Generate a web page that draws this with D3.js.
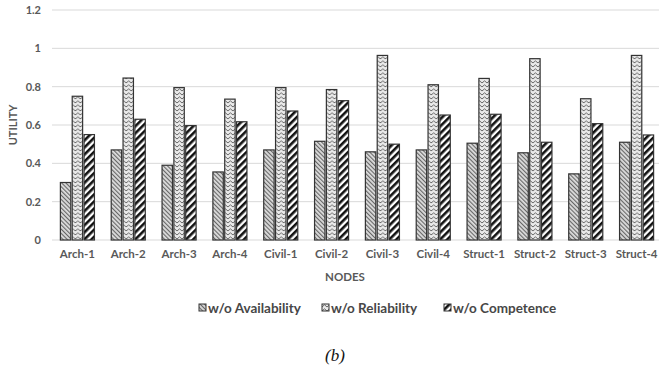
<!DOCTYPE html>
<html><head><meta charset="utf-8">
<script src="https://cdn.jsdelivr.net/npm/d3@7"></script>
<style>body{margin:0;background:#fff}svg{display:block}</style>
</head><body>
<script>
const categories = ["Arch-1","Arch-2","Arch-3","Arch-4","Civil-1","Civil-2","Civil-3","Civil-4","Struct-1","Struct-2","Struct-3","Struct-4"];
const seriesNames = ["w/o Availability","w/o Reliability","w/o Competence"];
const availability = [0.30,0.47,0.39,0.355,0.47,0.515,0.46,0.47,0.505,0.455,0.345,0.51];
const reliability  = [0.75,0.845,0.795,0.735,0.795,0.785,0.963,0.81,0.843,0.946,0.737,0.963];
const competence   = [0.55,0.63,0.597,0.617,0.673,0.727,0.50,0.652,0.656,0.51,0.607,0.548];
const yTicks = [0,0.2,0.4,0.6,0.8,1,1.2];
const seriesValues = [availability, reliability, competence];

const W = 659, H = 368;
const svg = d3.select("body").append("svg").attr("width", W).attr("height", H);
const defs = svg.append("defs");

// patterns
const pA = defs.append("pattern").attr("id","pA").attr("patternUnits","userSpaceOnUse")
  .attr("width",3).attr("height",3).attr("patternTransform","rotate(-45)");
pA.append("rect").attr("width",3).attr("height",3).attr("fill","#dcdcdc");
pA.append("line").attr("x1",0.6).attr("y1",0).attr("x2",0.6).attr("y2",3).attr("stroke","#5a5a5a").attr("stroke-width",1);

const pR = defs.append("pattern").attr("id","pR").attr("patternUnits","userSpaceOnUse")
  .attr("width",5).attr("height",4);
pR.append("rect").attr("width",5).attr("height",4).attr("fill","#eaeaea");
pR.append("polyline").attr("points","0,3 2.5,0.8 5,3").attr("fill","none").attr("stroke","#666").attr("stroke-width",1);

const pC = defs.append("pattern").attr("id","pC").attr("patternUnits","userSpaceOnUse")
  .attr("width",5).attr("height",5).attr("patternTransform","rotate(45)");
pC.append("rect").attr("width",5).attr("height",5).attr("fill","#fff");
pC.append("rect").attr("x",0).attr("width",2.6).attr("height",5).attr("fill","#111");

const fills = ["url(#pA)","url(#pR)","url(#pC)"];

const plotLeft = 52, plotRight = 662;
const x0 = d3.scaleBand().domain(categories).range([plotLeft, plotRight]).paddingInner(0.33).paddingOuter(0.165);
const x1 = d3.scaleBand().domain(seriesNames).range([0, x0.bandwidth()]).paddingInner(0.12);
const y = d3.scaleLinear().domain([0,1.2]).range([240,10]);

const txt = "#595959";
const font = "Lato, 'Open Sans', sans-serif";

// grid
svg.append("g").selectAll("line").data(yTicks).join("line")
  .attr("x1", plotLeft).attr("x2", W).attr("y1", d=>y(d)).attr("y2", d=>y(d))
  .attr("stroke", "#d9d9d9").attr("stroke-width", 1);

// y axis labels
const yAxis = d3.axisLeft(y).tickValues(yTicks).tickSize(0).tickPadding(0).tickFormat(d=>d3.format("~g")(d));
const gy = svg.append("g").attr("transform","translate(41,0)").call(yAxis);
gy.select(".domain").remove();
gy.selectAll("text").attr("fill",txt).attr("font-family",font).attr("font-weight","bold").attr("font-size",11);

// x axis labels
const xAxis = d3.axisBottom(x0).tickSize(0).tickPadding(0);
const gx = svg.append("g").attr("transform","translate(0,250)").call(xAxis);
gx.select(".domain").remove();
gx.selectAll("text").attr("fill",txt).attr("font-family",font).attr("font-weight","bold").attr("font-size",11.5);

// bars
const groups = svg.append("g").selectAll("g").data(categories).join("g")
  .attr("transform", d=>`translate(${x0(d)},0)`);
groups.selectAll("rect").data((c,i)=>seriesNames.map((s,j)=>({s, j, v: seriesValues[j][i]}))).join("rect")
  .attr("x", d=>x1(d.s)).attr("width", x1.bandwidth())
  .attr("y", d=>y(d.v)).attr("height", d=>y(0)-y(d.v))
  .attr("fill", d=>fills[d.j]).attr("stroke","#333").attr("stroke-width",1.2);

// axis titles
svg.append("text").attr("transform","translate(17,125) rotate(-90)").attr("text-anchor","middle")
  .attr("fill",txt).attr("font-family",font).attr("font-weight","bold").attr("font-size",11).text("UTILITY");
svg.append("text").attr("x",345).attr("y",281).attr("text-anchor","middle")
  .attr("fill",txt).attr("font-family",font).attr("font-weight","bold").attr("font-size",11.5).text("NODES");

// legend
const legX = [199, 322, 444];
const leg = svg.append("g").selectAll("g").data(seriesNames).join("g")
  .attr("transform",(d,i)=>`translate(${legX[i]},308)`);
leg.append("rect").attr("x",0).attr("y",-4).attr("width",7).attr("height",7)
  .attr("fill",(d,i)=>fills[i]).attr("stroke","#333").attr("stroke-width",1);
leg.append("text").attr("x",9).attr("y",4.5).attr("fill","#474747").attr("font-family",font)
  .attr("font-weight","bold").attr("font-size",13.5).text(d=>d);

// caption
svg.append("text").attr("x",335).attr("y",361).attr("text-anchor","middle")
  .attr("font-family","'Liberation Serif', serif").attr("font-style","italic").attr("font-size",17).attr("fill","#111").text("(b)");
</script>
</body></html>
